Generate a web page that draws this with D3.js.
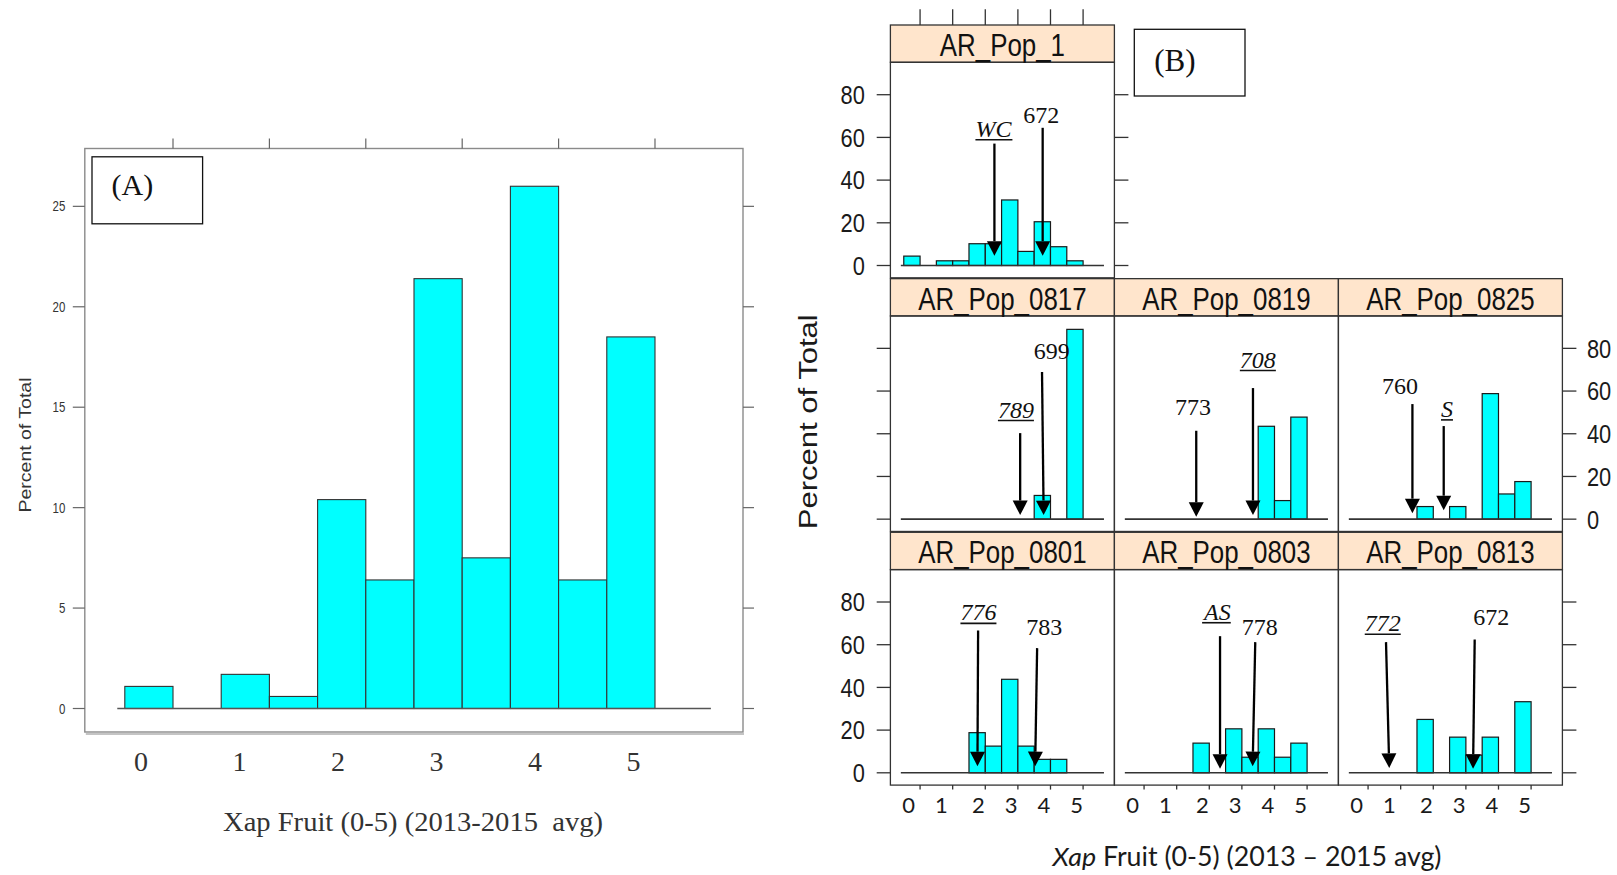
<!DOCTYPE html>
<html><head><meta charset="utf-8">
<script src="https://cdn.jsdelivr.net/npm/d3@7"></script>
<style>
html,body{margin:0;padding:0;background:#fff;}
svg{display:block;}
</style></head><body>
<svg id="fig" width="1617" height="875"></svg>
<script>
// Histogram bins: lower edge of each 0.5-wide class
const binStarts = [-0.5, 0, 0.5, 1, 1.5, 2, 2.5, 3, 3.5, 4, 4.5];
const binWidth = 0.5;
const xTickValues = [0, 1, 2, 3, 4, 5];
const xTickLabels = ["0", "1", "2", "3", "4", "5"];

// (A) all plants, percent of total per class
const allPercent = [1.1, 0, 1.7, 0.6, 10.4, 6.4, 21.4, 7.5, 26.0, 6.4, 18.5];
const allYTicks = [0, 5, 10, 15, 20, 25];

// (B) one histogram per population
const popNames = ["AR_Pop_1", "AR_Pop_0817", "AR_Pop_0819", "AR_Pop_0825", "AR_Pop_0801", "AR_Pop_0803", "AR_Pop_0813"];
const pop1    = [4.4, 0, 2.2, 2.2, 10.2, 10.2, 30.7, 6.6, 20.5, 8.8, 2.2];
const pop0817 = [0, 0, 0, 0, 0, 0, 0, 0, 11.1, 0, 88.9];
const pop0819 = [0, 0, 0, 0, 0, 0, 0, 0, 43.5, 8.7, 47.8];
const pop0825 = [0, 0, 0, 0, 5.9, 0, 5.9, 0, 58.8, 11.8, 17.6];
const pop0801 = [0, 0, 0, 0, 18.8, 12.5, 43.8, 12.5, 6.3, 6.3, 0];
const pop0803 = [0, 0, 0, 0, 13.9, 0, 20.6, 7.3, 20.6, 7.3, 13.9];
const pop0813 = [0, 0, 0, 0, 25.0, 0, 16.7, 8.3, 16.7, 0, 33.3];
const popYTicks = [0, 20, 40, 60, 80];

// Parent markers: [label, italic+underlined, x0, y0, xTip, yTip, labelX, labelY] in axis units
const arrows1    = [["WC", true, 2.28, 57.1, 2.28, 4.6, 2.25, 60.3], ["672", false, 3.76, 64.5, 3.76, 4.6, 3.72, 66.9]];
const arrows0817 = [["789", true, 3.07, 40.3, 3.07, 1.9, 2.94, 47.6], ["699", false, 3.74, 68.9, 3.79, 1.9, 4.04, 75.2]];
const arrows0819 = [["773", false, 1.60, 41.4, 1.60, 1.1, 1.50, 48.9], ["708", true, 3.34, 61.4, 3.34, 1.9, 3.49, 71.0]];
const arrows0825 = [["760", false, 1.36, 53.9, 1.36, 2.8, 0.98, 58.5], ["S", true, 2.32, 43.6, 2.32, 4.2, 2.42, 47.9]];
const arrows0801 = [["776", true, 1.78, 66.6, 1.76, 3.1, 1.79, 71.4], ["783", false, 3.59, 58.4, 3.53, 3.1, 3.81, 64.7]];
const arrows0803 = [["AS", true, 2.33, 64.0, 2.33, 1.9, 2.25, 71.7], ["778", false, 3.41, 61.2, 3.33, 3.1, 3.55, 64.4]];
const arrows0813 = [["772", true, 0.55, 61.2, 0.65, 2.3, 0.45, 66.3], ["672", false, 3.27, 62.4, 3.22, 1.9, 3.78, 69.1]];

const popValues = [pop1, pop0817, pop0819, pop0825, pop0801, pop0803, pop0813];
const popArrows = [arrows1, arrows0817, arrows0819, arrows0825, arrows0801, arrows0803, arrows0813];

const svg = d3.select("#fig");
const SERIF = "'Liberation Serif','Times New Roman',serif";
const SANS = "'Liberation Sans',Arial,sans-serif";
const CAL = "Lato,'Open Sans',sans-serif";
const CYAN = "#00ffff";

// condense a sans label horizontally to a narrow face
function narrow(sel, f) {
  sel.each(function () {
    const w = this.getComputedTextLength();
    d3.select(this).attr("textLength", w * f).attr("lengthAdjust", "spacingAndGlyphs");
  });
  return sel;
}

/* ---------------- Panel (A) ---------------- */
const A = {left: 84.8, right: 743, top: 148.5, bottom: 732};
const ax = d3.scaleLinear().domain([-0.915, 5.913]).range([A.left, A.right]);
const ay = d3.scaleLinear().domain([-1.17, 27.88]).range([A.bottom, A.top]);
const gA = svg.append("g");

gA.selectAll("rect.bar").data(allPercent.map((v, i) => ({v, x0: binStarts[i]})).filter(d => d.v > 0))
  .join("rect").attr("class", "bar")
  .attr("x", d => ax(d.x0)).attr("width", d => ax(d.x0 + binWidth) - ax(d.x0))
  .attr("y", d => ay(d.v)).attr("height", d => ay(0) - ay(d.v))
  .attr("fill", CYAN).attr("stroke", "#333").attr("stroke-width", 1.1);

gA.append("line").attr("x1", ax(-0.578)).attr("x2", ax(5.58)).attr("y1", ay(0)).attr("y2", ay(0))
  .attr("stroke", "#555").attr("stroke-width", 1.6);

// frame with soft shadow along the bottom
gA.append("line").attr("x1", A.left + 1).attr("x2", A.right + 1).attr("y1", A.bottom + 2).attr("y2", A.bottom + 2)
  .attr("stroke", "#c4c4c4").attr("stroke-width", 2.2);
gA.append("rect").attr("x", A.left).attr("y", A.top).attr("width", A.right - A.left).attr("height", A.bottom - A.top)
  .attr("fill", "none").attr("stroke", "#8a8a8a").attr("stroke-width", 1.4);

// ticks
allYTicks.forEach(t => {
  gA.append("line").attr("x1", A.left - 12).attr("x2", A.left).attr("y1", ay(t)).attr("y2", ay(t)).attr("stroke", "#666").attr("stroke-width", 1.2);
  gA.append("line").attr("x1", A.right).attr("x2", A.right + 11).attr("y1", ay(t)).attr("y2", ay(t)).attr("stroke", "#666").attr("stroke-width", 1.2);
  narrow(gA.append("text").attr("x", A.left - 19.5).attr("y", ay(t)).attr("dy", "0.36em").attr("text-anchor", "end")
    .attr("font-family", SANS).attr("font-size", 14).attr("fill", "#333").text(t), 0.82);
});
xTickValues.forEach(t => {
  gA.append("line").attr("x1", ax(t)).attr("x2", ax(t)).attr("y1", A.top - 10).attr("y2", A.top).attr("stroke", "#666").attr("stroke-width", 1.2);
});
// category labels below the frame
const aLab = d3.scaleLinear().domain([0, 5]).range([ax(-0.332), ax(4.777)]);
xTickValues.forEach((t, i) => {
  gA.append("text").attr("x", aLab(t)).attr("y", 771).attr("text-anchor", "middle")
    .attr("font-family", SERIF).attr("font-size", 28).attr("fill", "#333").text(xTickLabels[i]);
});
gA.append("text").attr("x", 413).attr("y", 831).attr("text-anchor", "middle").style("white-space", "pre")
  .attr("font-family", SERIF).attr("font-size", 28).attr("fill", "#333")
  .attr("textLength", 380).attr("lengthAdjust", "spacingAndGlyphs")
  .text("Xap Fruit (0-5) (2013-2015  avg)");
gA.append("text").attr("transform", "translate(31,445) rotate(-90)").attr("text-anchor", "middle")
  .attr("font-family", SANS).attr("font-size", 17).attr("fill", "#333")
  .attr("textLength", 135).attr("lengthAdjust", "spacingAndGlyphs").text("Percent of Total");
gA.append("rect").attr("x", 92).attr("y", 156.8).attr("width", 110.6).attr("height", 67)
  .attr("fill", "#fff").attr("stroke", "#111").attr("stroke-width", 1.3);
gA.append("text").attr("x", 111.5).attr("y", 195).attr("font-family", SERIF).attr("font-size", 30).attr("fill", "#111").text("(A)");

/* ---------------- Panel (B) ---------------- */
const colLeft = [890.4, 1114.4, 1338.4];
const colW = 224;
const rowTop = [25, 278.65, 532.3];
const stripH = 37.3, bodyH = 215.5;
const panelPos = [[0, 0], [1, 0], [1, 1], [1, 2], [2, 0], [2, 1], [2, 2]];
const gB = svg.append("g");
const INK = "#1a1a1a";

function arrow(g, x1, y1, x2, y2) {
  const dx = x2 - x1, dy = y2 - y1, L = Math.hypot(dx, dy);
  const ux = dx / L, uy = dy / L, hl = 14.5, hw = 7.5;
  const bx = x2 - ux * hl, by = y2 - uy * hl;
  g.append("line").attr("x1", x1).attr("y1", y1).attr("x2", bx).attr("y2", by)
    .attr("stroke", "#000").attr("stroke-width", 2.3);
  g.append("path").attr("d", `M${x2},${y2}L${bx - uy * hw},${by + ux * hw}L${bx + uy * hw},${by - ux * hw}Z`).attr("fill", "#000");
}

popNames.forEach((name, p) => {
  const [r, c] = panelPos[p];
  const left = colLeft[c], top = rowTop[r];
  const bodyTop = top + stripH, bodyBottom = bodyTop + bodyH;
  const x = d3.scaleLinear().domain([-0.91, 5.96]).range([left, left + colW]);
  const y = d3.scaleLinear().domain([-5.76, 95.18]).range([bodyBottom, bodyTop]);
  const g = gB.append("g");

  g.selectAll("rect.bar").data(popValues[p].map((v, i) => ({v, x0: binStarts[i]})).filter(d => d.v > 0))
    .join("rect").attr("class", "bar")
    .attr("x", d => x(d.x0)).attr("width", d => x(d.x0 + binWidth) - x(d.x0))
    .attr("y", d => y(d.v)).attr("height", d => y(0) - y(d.v))
    .attr("fill", CYAN).attr("stroke", INK).attr("stroke-width", 1.2);

  g.append("line").attr("x1", x(-0.59)).attr("x2", x(5.64)).attr("y1", y(0)).attr("y2", y(0))
    .attr("stroke", "#333").attr("stroke-width", 1.6);

  popArrows[p].forEach(a => {
    const [lab, ital, x0, y0, x1, y1, lx, ly] = a;
    arrow(g, x(x0), y(y0), x(x1), y(y1));
    const t = g.append("text").attr("x", x(lx)).attr("y", y(ly)).attr("text-anchor", "middle")
      .attr("font-family", SERIF).attr("font-size", 24).attr("fill", "#111")
      .attr("font-style", ital ? "italic" : "normal").text(lab);
    if (ital) {
      const bb = t.node().getBBox();
      g.append("line").attr("x1", bb.x).attr("x2", bb.x + bb.width).attr("y1", y(ly) + 3).attr("y2", y(ly) + 3)
        .attr("stroke", "#111").attr("stroke-width", 1.6);
    }
  });

  // strip and frame
  g.append("rect").attr("x", left).attr("y", top).attr("width", colW).attr("height", stripH)
    .attr("fill", "#ffe5cc").attr("stroke", "#333").attr("stroke-width", 1.3);
  g.append("rect").attr("x", left).attr("y", bodyTop).attr("width", colW).attr("height", bodyH)
    .attr("fill", "none").attr("stroke", "#333").attr("stroke-width", 1.3);
  narrow(g.append("text").attr("x", left + colW / 2).attr("y", top + 31).attr("text-anchor", "middle")
    .attr("font-family", SANS).attr("font-size", 31).attr("fill", "#111").text(name), 0.835);

  // y axis: left edge of first column, right edge of last panel in each row
  if (c === 0) {
    popYTicks.forEach(t => {
      g.append("line").attr("x1", left - 13.7).attr("x2", left).attr("y1", y(t)).attr("y2", y(t)).attr("stroke", "#333").attr("stroke-width", 1.3);
      if (r !== 1) narrow(g.append("text").attr("x", left - 25.5).attr("y", y(t)).attr("dy", "0.36em").attr("text-anchor", "end")
        .attr("font-family", SANS).attr("font-size", 26).attr("fill", INK).text(t), 0.84);
    });
  }
  const lastInRow = (r === 0 && c === 0) || (r > 0 && c === 2);
  if (lastInRow) {
    popYTicks.forEach(t => {
      g.append("line").attr("x1", left + colW).attr("x2", left + colW + 14).attr("y1", y(t)).attr("y2", y(t)).attr("stroke", "#333").attr("stroke-width", 1.3);
      if (r === 1) narrow(g.append("text").attr("x", left + colW + 24.5).attr("y", y(t)).attr("dy", "0.36em")
        .attr("font-family", SANS).attr("font-size", 26).attr("fill", INK).text(t), 0.84);
    });
  }
  // x axis: ticks on top of the first row, ticks and labels under the last row
  if (r === 0) {
    xTickValues.forEach(t => {
      g.append("line").attr("x1", x(t)).attr("x2", x(t)).attr("y1", top - 15.7).attr("y2", top).attr("stroke", "#333").attr("stroke-width", 1.3);
    });
  }
  if (r === 2) {
    const lab = d3.scaleLinear().domain([0, 5]).range([x(-0.35), x(4.68)]);
    xTickValues.forEach((t, i) => {
      g.append("line").attr("x1", x(t)).attr("x2", x(t)).attr("y1", bodyBottom).attr("y2", bodyBottom + 4.5).attr("stroke", "#333").attr("stroke-width", 1.3);
      g.append("text").attr("x", lab(t) + (i >= 2 ? 4 : 0)).attr("y", 813).attr("text-anchor", "middle")
        .attr("font-family", CAL).attr("font-size", 22).attr("fill", INK).text(xTickLabels[i]);
    });
  }
});

gB.append("text").attr("transform", "translate(817,421.8) rotate(-90)").attr("text-anchor", "middle")
  .attr("font-family", SANS).attr("font-size", 26).attr("fill", INK)
  .attr("textLength", 215).attr("lengthAdjust", "spacingAndGlyphs").text("Percent of Total");

const tB = gB.append("text").attr("x", 1247).attr("y", 866).attr("text-anchor", "middle")
  .attr("font-family", CAL).attr("font-size", 26).attr("fill", INK)
  .attr("textLength", 389).attr("lengthAdjust", "spacingAndGlyphs");
tB.append("tspan").attr("font-style", "italic").text("Xap");
tB.append("tspan").text(" Fruit (0-5) (2013 \u2013 2015 avg)");

gB.append("rect").attr("x", 1134.3).attr("y", 29.3).attr("width", 110.7).attr("height", 66.7)
  .attr("fill", "#fff").attr("stroke", "#111").attr("stroke-width", 1.3);
gB.append("text").attr("x", 1154.3).attr("y", 71).attr("font-family", SERIF).attr("font-size", 31).attr("fill", "#111").text("(B)");
</script>
</body></html>
